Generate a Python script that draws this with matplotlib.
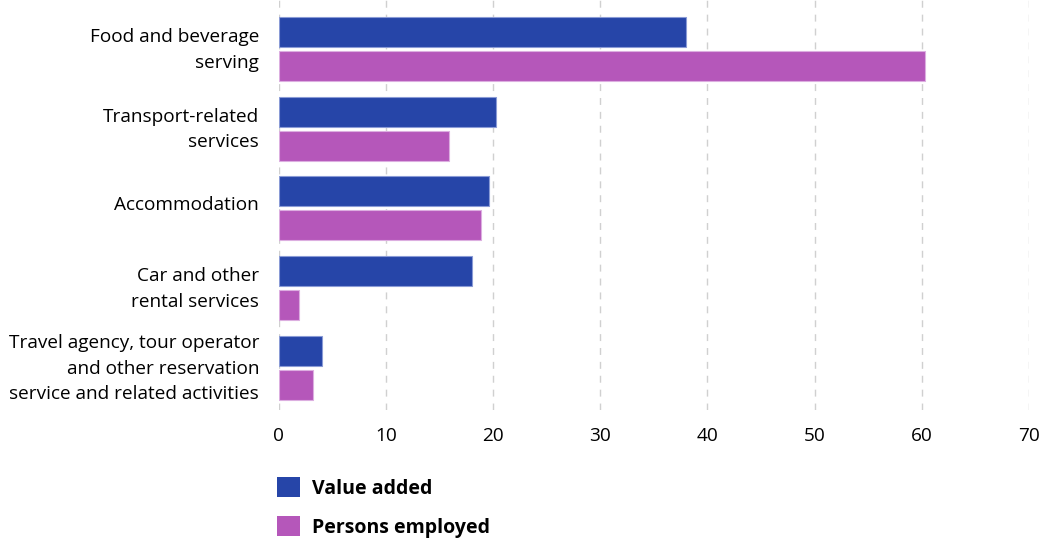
import matplotlib.pyplot as plt
from matplotlib.patches import Patch
import matplotlib.transforms as mtransforms
import numpy as np

plt.rcParams['font.family'] = ['Open Sans', 'DejaVu Sans']

categories = ["Food and beverage\nserving",
              "Transport-related\nservices",
              "Accommodation",
              "Car and other\nrental services",
              "Travel agency, tour operator\nand other reservation\nservice and related activities"]
value_added = [38.0, 20.3, 19.6, 18.0, 4.1]
persons_employed = [60.3, 15.9, 18.9, 1.9, 3.2]
xticks = [0, 10, 20, 30, 40, 50, 60, 70]

blue = '#2645A8'
purple = '#B557BA'

fig = plt.figure(figsize=(10.44, 5.38), dpi=100)
ax = fig.add_axes([0.2668, 0.238, 0.7188, 0.762])

pos = np.arange(len(categories))
h = 0.376
ax.barh(pos - 0.213, value_added, height=h, color=blue, edgecolor='#8a9bd6', linewidth=0.8, zorder=3)
ax.barh(pos + 0.213, persons_employed, height=h, color=purple, edgecolor='#dcaee0', linewidth=0.8, zorder=3)

ax.set_xlim(0, 70)
ax.set_ylim(4.527, -0.614)
ax.set_xticks(xticks)
ax.set_yticks(pos)
ax.set_yticklabels(categories, fontsize=13.7, linespacing=1.55)
ax.tick_params(axis='y', length=0, pad=14)
ax.tick_params(axis='x', length=0, pad=12, labelsize=13.7)

# nudge the category labels up a little
shift = mtransforms.ScaledTranslation(0, 5 / 100, fig.dpi_scale_trans)
for lab in ax.get_yticklabels():
    lab.set_transform(lab.get_transform() + shift)

ax.xaxis.grid(True, color='#d0d0d0', linestyle=(0, (5, 5)), linewidth=1, zorder=0)
for s in ax.spines.values():
    s.set_visible(False)

handles = [Patch(facecolor=blue, label='Value added'),
           Patch(facecolor=purple, label='Persons employed')]
fig.legend(handles=handles, loc='upper left', bbox_to_anchor=(0.2657, 0.113),
           frameon=False, ncol=1, prop={'weight': 'bold', 'size': 14},
           handlelength=1.18, handleheight=1.18, handletextpad=0.62,
           labelspacing=0.9, borderaxespad=0, borderpad=0)

fig.savefig('out.png', dpi=100)
